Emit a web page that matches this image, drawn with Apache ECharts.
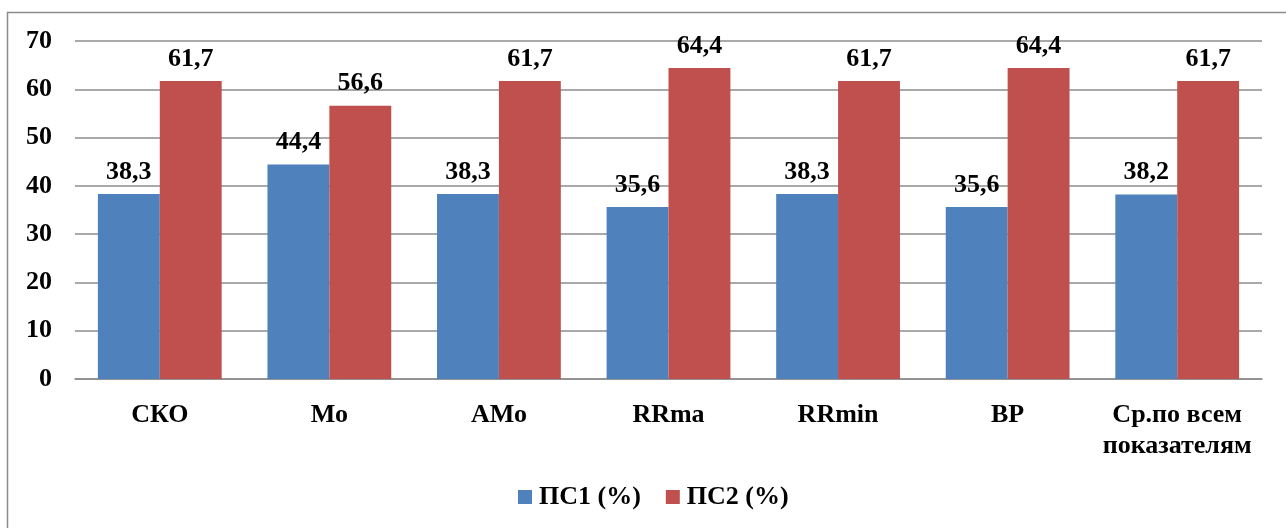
<!DOCTYPE html>
<html><head><meta charset="utf-8">
<script src="https://cdn.jsdelivr.net/npm/echarts@6/dist/echarts.min.js"></script>
<style>html,body{margin:0;padding:0;background:#fff}#c{width:1286px;height:528px}</style>
</head><body><div id="c"></div>
<script>
const categories = ['СКО', 'Мо', 'АМо', 'RRma', 'RRmin', 'ВР', 'Ср.по всем\nпоказателям'];
const ps1 = [38.3, 44.4, 38.3, 35.6, 38.3, 35.6, 38.2];
const ps2 = [61.7, 56.6, 61.7, 64.4, 61.7, 64.4, 61.7];
const seriesNames = ['ПС1 (%)', 'ПС2 (%)'];
const yTicks = {min: 0, max: 70, interval: 10};

const font = '"Liberation Serif", "Times New Roman", serif';
const FS = 26;
const chart = echarts.init(document.getElementById('c'), null, {renderer: 'canvas'});
const labelFmt = p => String(p.value).replace('.', ',');
const lbl = {show: true, position: 'top', distance: 9, formatter: labelFmt, fontFamily: font, fontWeight: 'bold', fontSize: FS, color: '#000'};
chart.setOption({
  animation: false,
  textStyle: {fontFamily: font},
  graphic: [{type: 'rect', shape: {x: 7.5, y: 12.5, width: 1290, height: 540}, style: {fill: 'none', stroke: '#8c8c8c', lineWidth: 1.5}, silent: true}],
  grid: {left: 75, right: 24, top: 41, bottom: 149},
  legend: {
    bottom: 13, left: 513, itemWidth: 14, itemHeight: 14, itemGap: 25,
    icon: 'rect',
    textStyle: {fontFamily: font, fontWeight: 'bold', fontSize: FS, color: '#000', padding: [0, 0, 0, 2]},
    data: seriesNames
  },
  xAxis: {
    type: 'category', data: categories,
    axisLine: {lineStyle: {color: '#8c8c8c', width: 1.5}},
    axisTick: {show: false},
    axisLabel: {fontFamily: font, fontWeight: 'bold', fontSize: FS, color: '#000', margin: 21, lineHeight: 31, interval: 0}
  },
  yAxis: {
    type: 'value', min: yTicks.min, max: yTicks.max, interval: yTicks.interval,
    axisLine: {show: false}, axisTick: {show: false},
    splitLine: {lineStyle: {color: '#8c8c8c', width: 1.5}},
    axisLabel: {fontFamily: font, fontWeight: 'bold', fontSize: FS, color: '#000', margin: 23}
  },
  series: [
    {name: seriesNames[0], type: 'bar', data: ps1, barWidth: '36.5%', barGap: '0%',
     itemStyle: {color: '#4F81BD'}, label: lbl},
    {name: seriesNames[1], type: 'bar', data: ps2, barWidth: '36.5%', barGap: '0%',
     itemStyle: {color: '#C0504D'}, label: lbl}
  ]
});
</script></body></html>
